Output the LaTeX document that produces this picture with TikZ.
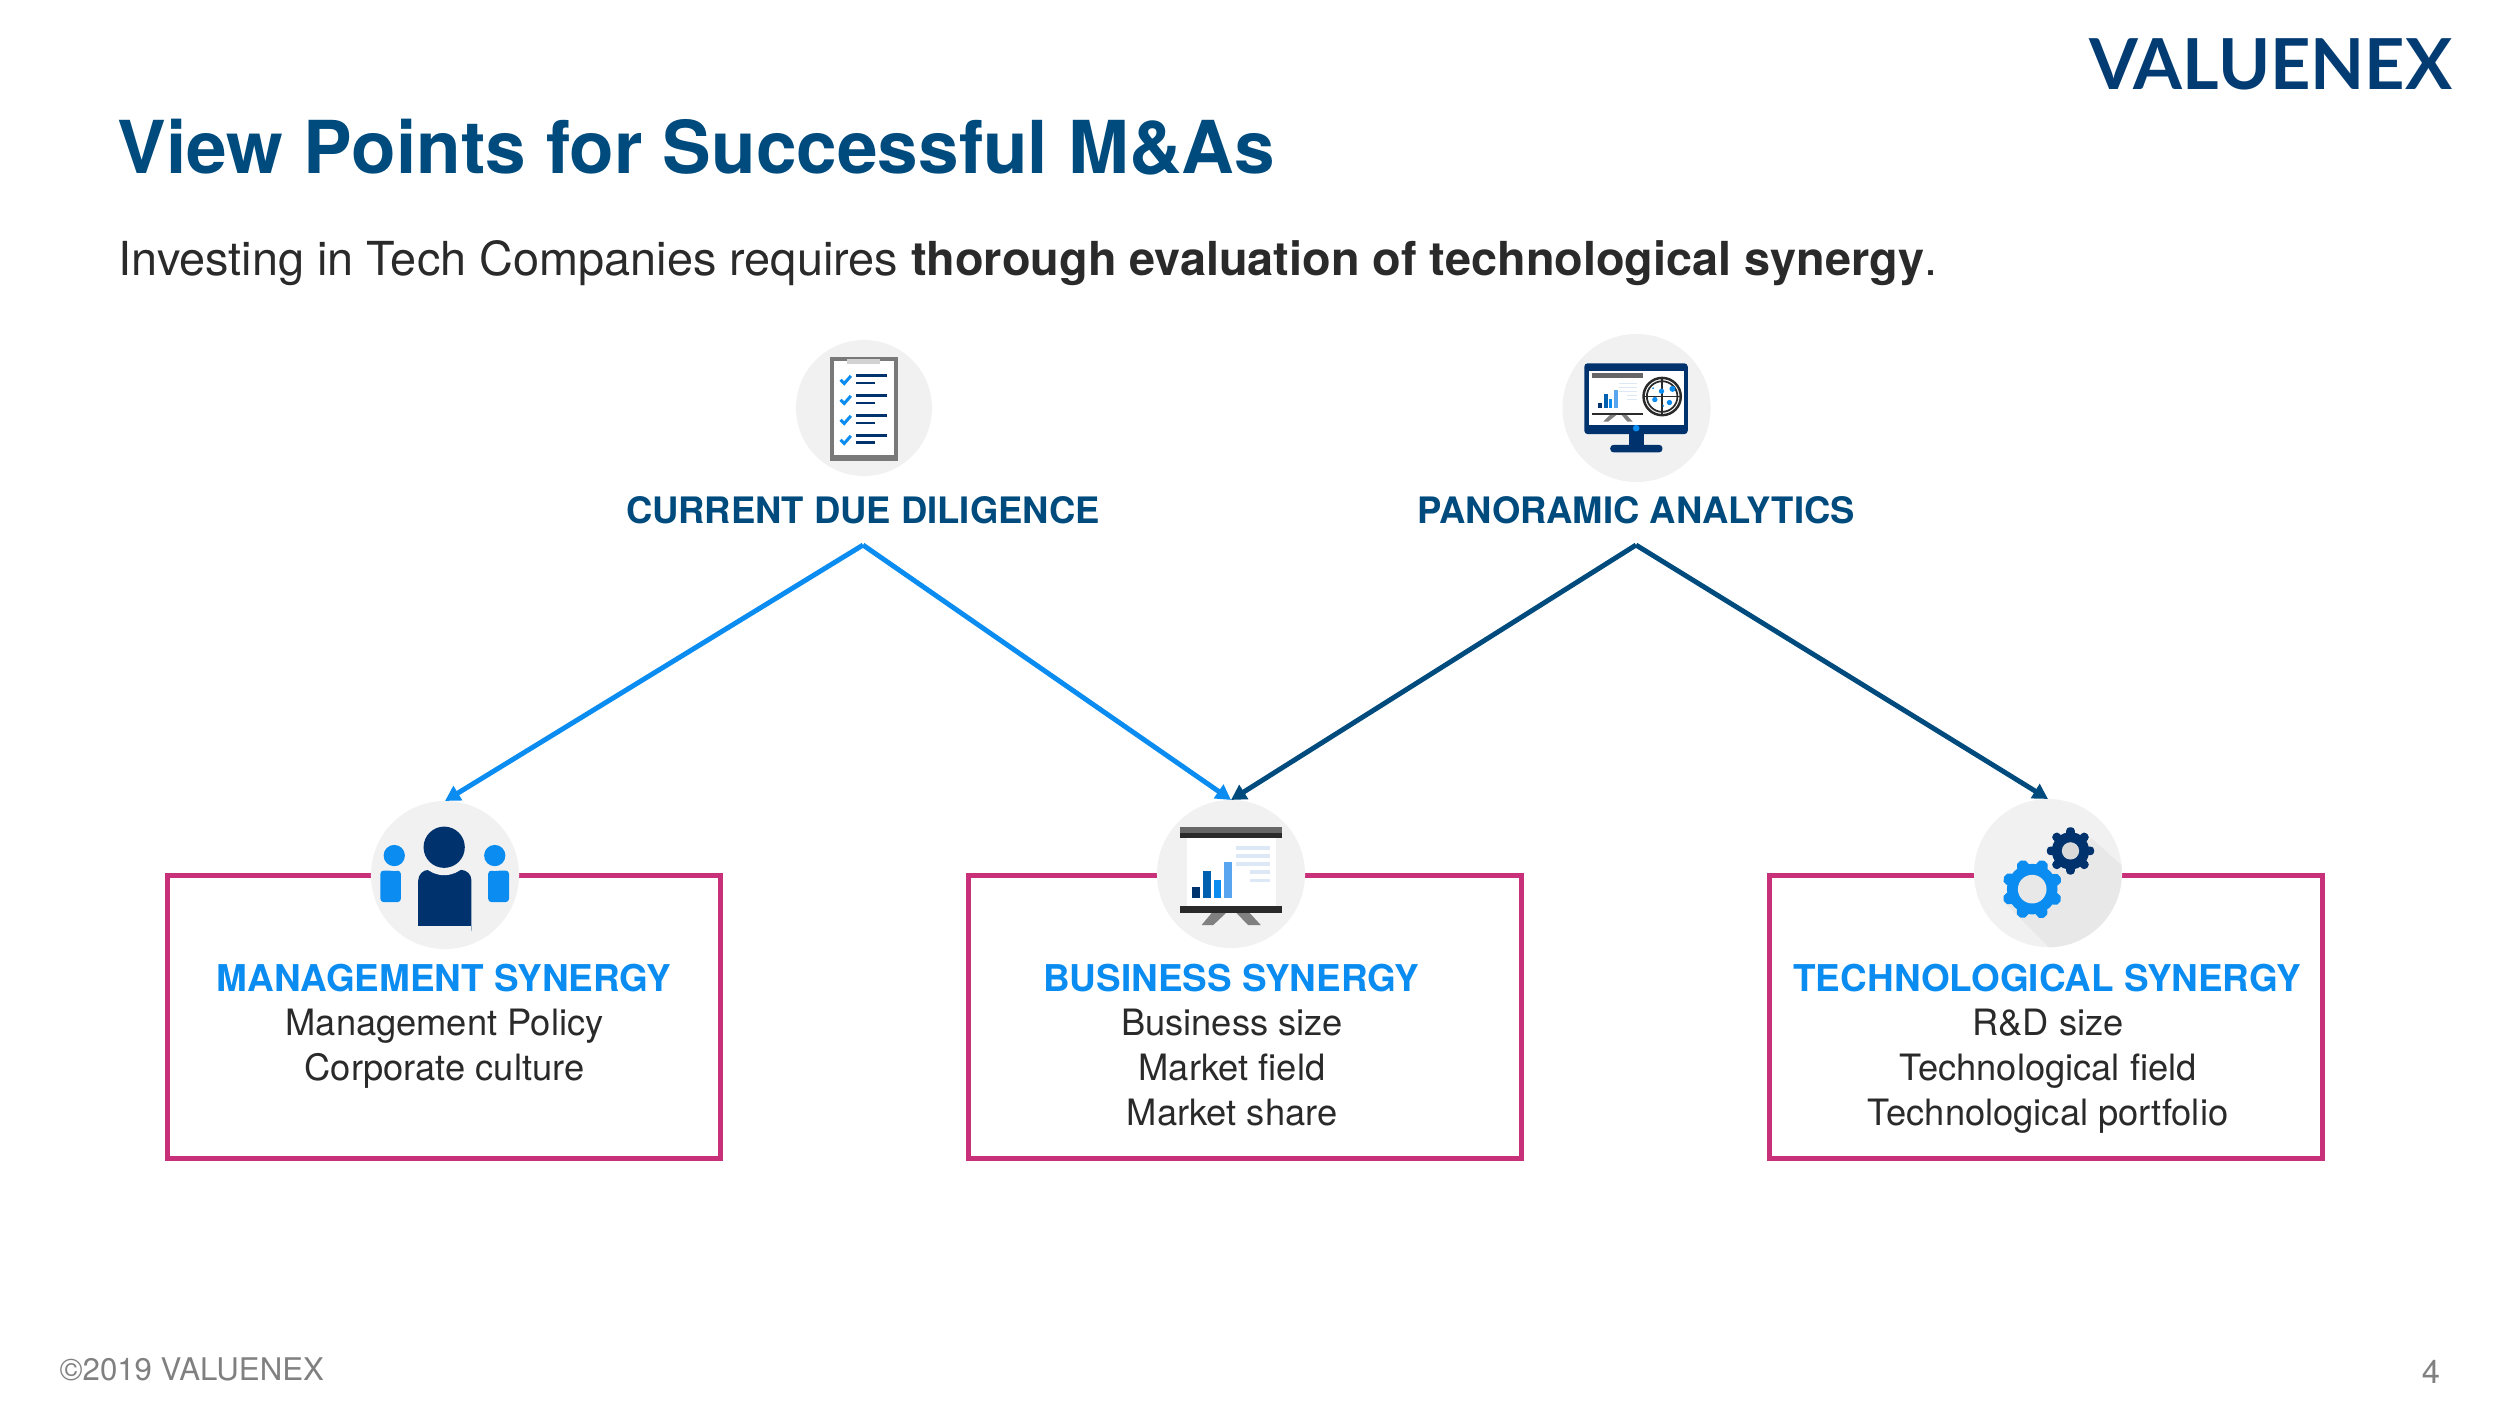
\documentclass[tikz,border=0pt]{standalone}
\usepackage{fontspec}
\setmainfont{TeX Gyre Heros}
\newfontfamily\logofont{Lato}
\usepackage{xcolor}
\usetikzlibrary{shapes.geometric, arrows.meta, positioning}
\definecolor{titleblue}{RGB}{0, 75, 125}
\definecolor{logoblue}{RGB}{3, 60, 115}
\definecolor{skyblue}{RGB}{10, 140, 240}
\definecolor{navy}{RGB}{0, 50, 110}
\definecolor{midblue}{RGB}{0, 96, 176}
\definecolor{softblue}{RGB}{90, 165, 240}
\definecolor{paleblue}{RGB}{220, 232, 245}
\definecolor{boxpink}{RGB}{200, 48, 122}
\definecolor{iconbg}{RGB}{241, 241, 241}
\definecolor{slate}{RGB}{42, 42, 42}
\tikzset{
  synergybox/.style={rectangle, draw=boxpink, line width=1.35pt, minimum width=5.52cm, minimum height=2.83cm, inner sep=0},
  iconbadge/.style={circle, fill=iconbg, minimum size=1.48cm, inner sep=0, outer sep=0},
  headlabel/.style={font=\fontsize{10.36}{13}\selectfont\bfseries, text=titleblue, minimum height=0.7cm, inner sep=0, outer sep=0},
  synergyhead/.style={font=\fontsize{10.5}{13}\selectfont\bfseries, text=skyblue, inner sep=0, anchor=base},
  synergybody/.style={font=\fontsize{10.32}{12.7}\selectfont, text=slate, align=center, inner sep=0, anchor=base},
  linkarrow/.style={line width=1.4pt, -{Triangle[length=4.3pt, width=4.6pt]}},
  iconscale/.style={x=0.003333cm, y=-0.003333cm},
}
\begin{document}
\begin{tikzpicture}[x=0.01cm, y=-0.01cm]
    \useasboundingbox (0, 0) rectangle (2500, 1406);

    % Header
    \node[anchor=base west, inner sep=0, text=titleblue, font=\fontsize{20.75}{25}\selectfont\bfseries] (title) at (117, 173) {View Points for Successful M\&As};
    \node[anchor=base west, inner sep=0, text=slate, font=\fontsize{13.32}{16}\selectfont] (subtitle) at (118, 275) {Investing in Tech Companies requires \textbf{thorough evaluation of technological synergy}.};
    \node[anchor=base east, inner sep=0, text=logoblue, font=\fontsize{20}{24}\logofont\bfseries] (logo) at (2453, 89) {VALUENEX};

    % Boxes
    \node[synergybox] (mgmtbox) at (444, 1017) {};
    \node[synergybox] (bizbox) at (1245, 1017) {};
    \node[synergybox] (techbox) at (2046, 1017) {};

    % Badges
    \node[iconbadge, minimum size=1.36cm] (dd) at (864, 408) {};
    \node[iconbadge] (pa) at (1636.5, 408) {};
    \node[iconbadge] (mgmt) at (445, 875) {};
    \node[iconbadge] (biz) at (1231, 874) {};
    \node[iconbadge] (tech) at (2048, 873) {};

    % Top labels
    \node[headlabel] (ddlabel) at (863, 510) {CURRENT DUE DILIGENCE};
    \node[headlabel] (palabel) at (1636, 510) {PANORAMIC ANALYTICS};

    % Links
    \draw[linkarrow, skyblue] (ddlabel.south) -- (mgmt.north);
    \draw[linkarrow, skyblue] (ddlabel.south) -- (biz.north);
    \draw[linkarrow, titleblue] (palabel.south) -- (biz.north);
    \draw[linkarrow, titleblue] (palabel.south) -- (tech.north);

    % Box texts
    \node[synergyhead] (mgmthead) at (444, 991) {MANAGEMENT SYNERGY};
    \node[synergybody] (mgmttext) at (444.5, 1080) {Management Policy\\Corporate culture};
    \node[synergyhead] (bizhead) at (1231, 991) {BUSINESS SYNERGY};
    \node[synergybody] (biztext) at (1232, 1125) {Business size\\Market field\\Market share};
    \node[synergyhead] (techhead) at (2047, 991) {TECHNOLOGICAL SYNERGY};
    \node[synergybody] (techtext) at (2048, 1125) {R\&D size\\Technological field\\Technological portfolio};

    % Checklist icon
    \begin{scope}[shift={(760, 320)}, iconscale]
        \fill[gray!95!black] (210, 110) rectangle (415, 423);
        \fill[white] (222, 122) rectangle (402, 407);
        \fill[gray!35] (262, 118) rectangle (362, 132);
        \foreach \y in {0, 60, 120, 180} {
            \draw[skyblue, line width=0.85pt] (242, 180+\y) -- (253, 191+\y) -- (273, 168+\y);
            \draw[navy, line width=0.75pt] (289, 167+\y) -- (383, 167+\y);
            \draw[navy, line width=0.75pt] (289, 189+\y) -- (345, 189+\y);
        }
    \end{scope}

    % Monitor icon
    \begin{scope}[shift={(1540, 320)}, iconscale]
        \fill[navy, rounded corners=1pt] (133, 130) rectangle (444, 343);
        \fill[navy] (266, 343) rectangle (311, 375);
        \fill[navy, rounded corners=1pt] (211, 375) rectangle (368, 398);
        \fill[white] (147, 152) rectangle (433, 316);
        \fill[skyblue] (289, 325) circle (10);
        \fill[gray!80!black] (155, 160) rectangle (308, 173);
        \fill[slate] (155, 278) rectangle (308, 285);
        \fill[gray] (210, 285) -- (230, 285) -- (205, 305) -- (190, 305) -- cycle;
        \fill[gray] (245, 285) -- (260, 285) -- (278, 305) -- (262, 305) -- cycle;
        \fill[navy] (174, 248) rectangle (186, 263);
        \fill[midblue] (191, 223) rectangle (203, 263);
        \fill[skyblue] (206, 238) rectangle (217, 263);
        \fill[softblue] (222, 210) rectangle (234, 263);
        \foreach \y in {188, 200, 212} {
            \fill[paleblue] (238, \y) rectangle (290, \y+3);
        }
        \fill[paleblue] (260, 224) rectangle (290, 227);
        \fill[paleblue] (260, 237) rectangle (290, 240);
        \draw[slate, line width=0.7pt] (367, 230) circle (56);
        \draw[slate, line width=0.5pt] (367, 230) circle (46);
        \draw[slate, line width=0.5pt] (367, 174) -- (367, 286);
        \draw[slate, line width=0.5pt] (311, 230) -- (423, 230);
        \fill[skyblue] (365, 214) circle (8) (398, 207) circle (9) (345, 239) circle (8) (389, 248) circle (8) (340, 205) circle (3) (370, 258) circle (3);
    \end{scope}

    % People icon
    \begin{scope}[shift={(350, 780)}, iconscale]
        \fill[skyblue, rounded corners=1pt] (91, 367) -- (91, 272) -- (153, 272) -- (153, 367) -- cycle;
        \fill[iconbg] (133, 227) circle (46);
        \fill[skyblue] (133, 227) circle (32);
        \fill[skyblue, rounded corners=1pt] (415, 367) -- (415, 272) -- (478, 272) -- (478, 367) -- cycle;
        \fill[iconbg] (435, 227) circle (46);
        \fill[skyblue] (435, 227) circle (32);
        \fill[navy, rounded corners=3pt] (205, 480) -- (205, 270) -- (365, 270) -- (365, 480) -- cycle;
        \fill[iconbg] (205, 440) rectangle (365, 490);
        \fill[iconbg] (283, 202) circle (84);
        \fill[navy] (283, 202) circle (62);
    \end{scope}

    % Presentation icon
    \begin{scope}[shift={(1140, 770)}, iconscale]
        \fill[white] (140, 203) rectangle (408, 408);
        \fill[gray!80!black] (119, 172) rectangle (428, 188);
        \fill[slate] (119, 188) rectangle (428, 203);
        \fill[navy] (157, 352) rectangle (180, 385);
        \fill[midblue] (189, 303) rectangle (213, 385);
        \fill[skyblue] (221, 330) rectangle (244, 385);
        \fill[softblue] (253, 275) rectangle (276, 385);
        \foreach \y in {228, 252, 277} {
            \fill[paleblue] (288, \y) rectangle (392, \y+12);
        }
        \foreach \y in {301, 326} {
            \fill[paleblue] (331, \y) rectangle (392, \y+12);
        }
        \fill[slate] (119, 409) rectangle (428, 430);
        \fill[gray] (215, 430) -- (258, 430) -- (220, 466) -- (185, 466) -- cycle;
        \fill[gray] (290, 430) -- (330, 430) -- (363, 466) -- (325, 466) -- cycle;
    \end{scope}

    % Gears icon
    \begin{scope}[shift={(1950, 770)}, iconscale]
        \begin{scope}
            \clip (294, 311) circle (222);
            \fill[gray!18] (425, 205) -- (530, 300) -- (530, 560) -- (310, 545) -- (160, 395) -- cycle;
        \end{scope}
        \fill[skyblue] (247, 358) circle (76);
        \foreach \a in {0, 45, ..., 315} {
            \fill[skyblue, rotate around={\a+22:(247, 358)}, rounded corners=1.5pt] (229, 266) rectangle (265, 300);
        }
        \fill[gray!18] (247, 358) circle (43);
        \fill[navy] (362, 243) circle (56);
        \foreach \a in {0, 45, ..., 315} {
            \fill[navy, rotate around={\a:(362, 243)}, rounded corners=1pt] (349, 172) rectangle (375, 200);
        }
        \fill[iconbg!90!black] (362, 243) circle (26);
    \end{scope}

    % Footer
    \node[anchor=base west, inner sep=0, text=gray, font=\fontsize{8.87}{11}\selectfont] (copyright) at (59, 1380) {©2019 VALUENEX};
    \node[anchor=base, inner sep=0, text=gray, font=\fontsize{9.3}{11}\selectfont] (pagenum) at (2431, 1383) {4};
\end{tikzpicture}
\end{document}
